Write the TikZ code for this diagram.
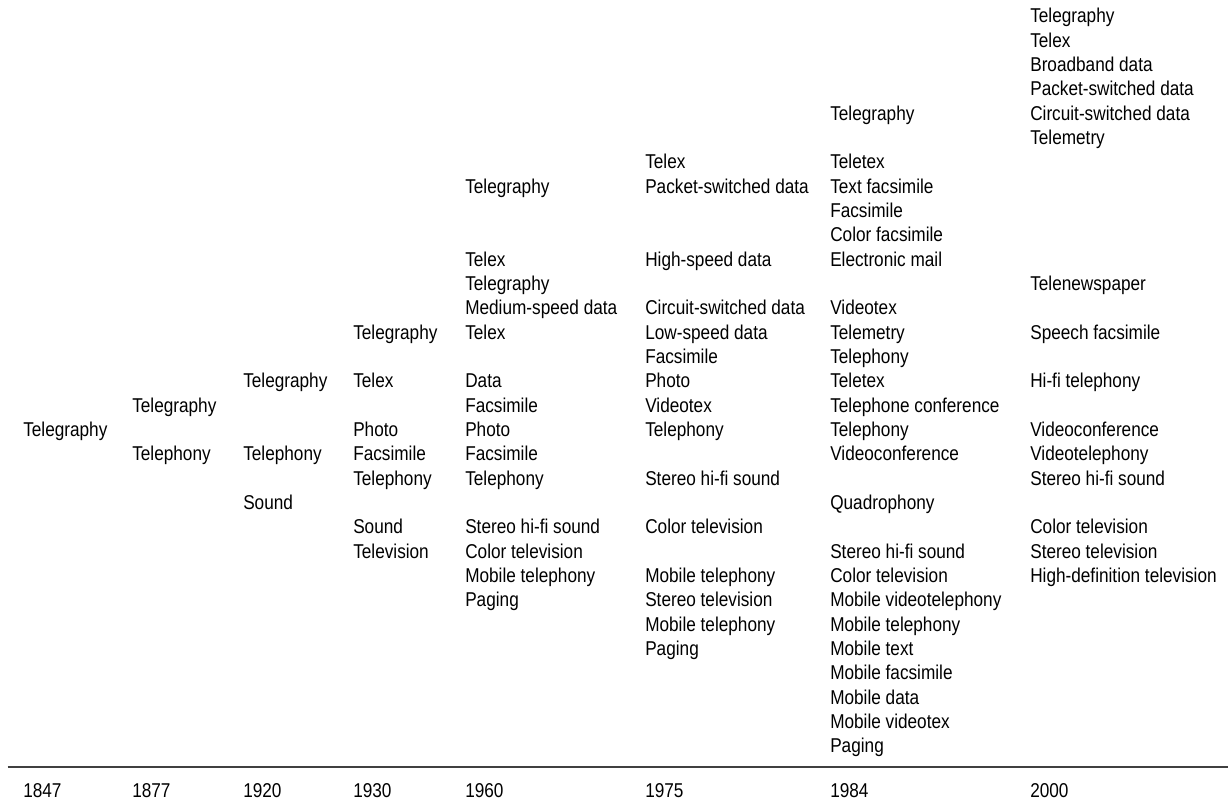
\documentclass[tikz,border=0pt]{standalone}
\usepackage{fontspec}
\setmainfont{Liberation Sans}[FakeStretch=0.86]
\usetikzlibrary{positioning}

\tikzset{
	item/.style={anchor=base west, inner sep=0pt, font=\fontsize{15pt}{18pt}\selectfont},
	axisline/.style={draw=black!75, line width=1pt}
}

\begin{document}
\begin{tikzpicture}[x=0.75pt, y=-0.75pt]
		\useasboundingbox (0,0) rectangle (1228,802);
		\coordinate (axisL) at (7.5,767);
		\coordinate (axisR) at (1228,767);
		\draw[axisline] (axisL) -- (axisR);
		\foreach \yr/\x in {1847/23, 1877/132, 1920/243, 1930/353, 1960/465, 1975/645, 1984/830, 2000/1030}
			\node[item] (yr\yr) at (\x,797) {\yr};
		\foreach \n/\t in {17/Telegraphy}
			\node[item] (c1847-\n) at (23,{23+24.33*\n}) {\t};
		\foreach \n/\t in {16/Telegraphy, 18/Telephony}
			\node[item] (c1877-\n) at (132,{23+24.33*\n}) {\t};
		\foreach \n/\t in {15/Telegraphy, 18/Telephony, 20/Sound}
			\node[item] (c1920-\n) at (243,{23+24.33*\n}) {\t};
		\foreach \n/\t in {13/Telegraphy, 15/Telex, 17/Photo, 18/Facsimile, 19/Telephony, 21/Sound, 22/Television}
			\node[item] (c1930-\n) at (353,{23+24.33*\n}) {\t};
		\foreach \n/\t in {7/Telegraphy, 10/Telex, 11/Telegraphy, 12/Medium-speed data, 13/Telex, 15/Data, 16/Facsimile, 17/Photo, 18/Facsimile, 19/Telephony, 21/Stereo hi-fi sound, 22/Color television, 23/Mobile telephony, 24/Paging}
			\node[item] (c1960-\n) at (465,{23+24.33*\n}) {\t};
		\foreach \n/\t in {6/Telex, 7/Packet-switched data, 10/High-speed data, 12/Circuit-switched data, 13/Low-speed data, 14/Facsimile, 15/Photo, 16/Videotex, 17/Telephony, 19/Stereo hi-fi sound, 21/Color television, 23/Mobile telephony, 24/Stereo television, 25/Mobile telephony, 26/Paging}
			\node[item] (c1975-\n) at (645,{23+24.33*\n}) {\t};
		\foreach \n/\t in {4/Telegraphy, 6/Teletex, 7/Text facsimile, 8/Facsimile, 9/Color facsimile, 10/Electronic mail, 12/Videotex, 13/Telemetry, 14/Telephony, 15/Teletex, 16/Telephone conference, 17/Telephony, 18/Videoconference, 20/Quadrophony, 22/Stereo hi-fi sound, 23/Color television, 24/Mobile videotelephony, 25/Mobile telephony, 26/Mobile text, 27/Mobile facsimile, 28/Mobile data, 29/Mobile videotex, 30/Paging}
			\node[item] (c1984-\n) at (830,{23+24.33*\n}) {\t};
		\foreach \n/\t in {0/Telegraphy, 1/Telex, 2/Broadband data, 3/Packet-switched data, 4/Circuit-switched data, 5/Telemetry, 11/Telenewspaper, 13/Speech facsimile, 15/Hi-fi telephony, 17/Videoconference, 18/Videotelephony, 19/Stereo hi-fi sound, 21/Color television, 22/Stereo television, 23/High-definition television}
			\node[item] (c2000-\n) at (1030,{23+24.33*\n}) {\t};
\end{tikzpicture}
\end{document}
